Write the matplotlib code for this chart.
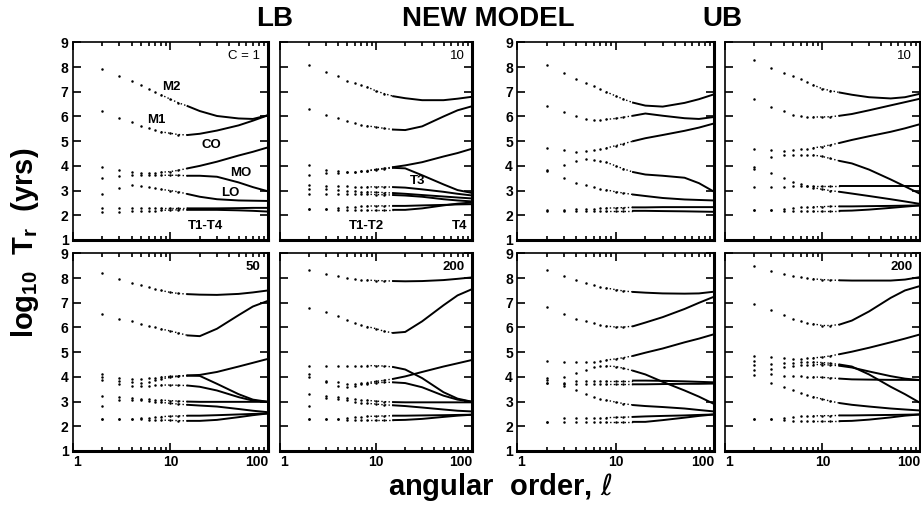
#Relaxation times vs angular order - LB / new model / UB panels
import numpy as np
import matplotlib
matplotlib.use('Agg')
import matplotlib.pyplot as plt
from matplotlib.ticker import NullFormatter

plt.rcParams['font.family'] = ['Liberation Sans', 'DejaVu Sans']
plt.rcParams['mathtext.fontset'] = 'custom'
plt.rcParams['mathtext.rm'] = 'Liberation Sans:bold'
plt.rcParams['mathtext.it'] = 'DejaVu Sans:italic'

#Angular orders where values were read
ELL = [2, 3, 4, 5, 6, 7, 8, 10, 12, 15, 20, 30, 50, 70, 100]

#LB, C = 1
LB_C1 = [
    [7.93, 7.63, 7.45, 7.26, 7.12, 6.98, 6.88, 6.70, 6.56, 6.42, 6.22, 6.02, 5.92, 5.90, 6.05],  #M2
    [6.21, 5.93, 5.76, 5.62, 5.52, 5.45, 5.38, 5.32, 5.27, 5.25, 5.30, 5.43, 5.64, 5.83, 6.05],  #M1
    [3.97, 3.83, 3.75, 3.72, 3.72, 3.73, 3.74, 3.77, 3.82, 3.90, 4.00, 4.17, 4.42, 4.57, 4.75],  #CO
    [3.52, 3.60, 3.63, 3.63, 3.62, 3.62, 3.62, 3.62, 3.62, 3.60, 3.60, 3.56, 3.33, 3.14, 2.97],  #MO
    [2.87, 3.10, 3.22, 3.18, 3.13, 3.09, 3.05, 3.00, 2.95, 2.86, 2.75, 2.65, 2.60, 2.59, 2.58],  #LO
    [2.28, 2.28, 2.28, 2.28, 2.28, 2.28, 2.28, 2.28, 2.28, 2.28, 2.28, 2.28, 2.29, 2.30, 2.30],  #T
    [2.15, 2.15, 2.16, 2.17, 2.18, 2.19, 2.20, 2.21, 2.22, 2.22, 2.22, 2.22, 2.20, 2.18, 2.15],  #T
]

#LB, C = 10
LB_C10 = [
    [8.10, 7.82, 7.63, 7.45, 7.35, 7.27, 7.20, 7.03, 6.93, 6.82, 6.74, 6.66, 6.66, 6.72, 6.80],
    [6.32, 6.07, 5.93, 5.80, 5.72, 5.66, 5.62, 5.57, 5.52, 5.47, 5.45, 5.60, 6.00, 6.25, 6.42],
    [4.04, 3.85, 3.78, 3.76, 3.77, 3.79, 3.81, 3.86, 3.90, 3.95, 4.02, 4.15, 4.38, 4.52, 4.70],
    [3.65, 3.70, 3.72, 3.74, 3.76, 3.78, 3.80, 3.84, 3.88, 3.92, 3.90, 3.62, 3.25, 3.02, 2.90],
    [3.21, 3.20, 3.18, 3.17, 3.16, 3.15, 3.15, 3.15, 3.15, 3.14, 3.12, 3.05, 2.95, 2.87, 2.80],
    [3.08, 3.05, 3.03, 3.00, 2.98, 2.96, 2.95, 2.93, 2.92, 2.90, 2.87, 2.82, 2.76, 2.72, 2.68],
    [2.87, 2.88, 2.88, 2.88, 2.87, 2.86, 2.85, 2.84, 2.83, 2.82, 2.80, 2.75, 2.65, 2.60, 2.56],
    [2.25, 2.26, 2.30, 2.33, 2.35, 2.36, 2.37, 2.38, 2.38, 2.38, 2.38, 2.40, 2.42, 2.44, 2.45],
    [2.25, 2.24, 2.23, 2.22, 2.22, 2.22, 2.22, 2.22, 2.22, 2.22, 2.22, 2.28, 2.40, 2.47, 2.52],
]

#UB, C = 1
UB_C1 = [
    [8.07, 7.76, 7.52, 7.35, 7.22, 7.10, 7.00, 6.83, 6.70, 6.56, 6.44, 6.40, 6.55, 6.70, 6.90],
    [6.42, 6.17, 6.00, 5.90, 5.87, 5.87, 5.88, 5.92, 5.97, 6.03, 6.12, 6.03, 5.93, 5.90, 5.98],
    [4.73, 4.64, 4.57, 4.59, 4.63, 4.67, 4.72, 4.82, 4.90, 5.00, 5.12, 5.25, 5.42, 5.55, 5.72],
    [3.83, 4.04, 4.18, 4.27, 4.25, 4.20, 4.15, 4.00, 3.88, 3.75, 3.65, 3.60, 3.52, 3.30, 2.95],
    [3.80, 3.52, 3.32, 3.21, 3.14, 3.08, 3.03, 2.95, 2.90, 2.84, 2.78, 2.70, 2.64, 2.62, 2.60],
    [2.20, 2.22, 2.24, 2.26, 2.27, 2.28, 2.29, 2.30, 2.31, 2.32, 2.32, 2.33, 2.33, 2.33, 2.33],
    [2.18, 2.18, 2.18, 2.18, 2.18, 2.18, 2.18, 2.18, 2.18, 2.18, 2.18, 2.17, 2.16, 2.15, 2.14],
]

#UB, C = 10
UB_C10 = [
    [8.27, 7.97, 7.76, 7.63, 7.50, 7.38, 7.28, 7.12, 7.05, 6.97, 6.88, 6.78, 6.73, 6.78, 6.92],
    [6.72, 6.39, 6.21, 6.07, 6.02, 5.99, 5.98, 5.98, 5.99, 6.03, 6.10, 6.25, 6.45, 6.58, 6.72],
    [4.70, 4.66, 4.62, 4.66, 4.68, 4.70, 4.73, 4.78, 4.85, 4.93, 5.05, 5.20, 5.38, 5.52, 5.69],
    [3.97, 4.34, 4.45, 4.45, 4.46, 4.46, 4.44, 4.38, 4.30, 4.20, 4.10, 3.85, 3.45, 3.17, 2.87],
    [3.14, 3.14, 3.16, 3.17, 3.18, 3.19, 3.20, 3.20, 3.20, 3.20, 3.20, 3.20, 3.20, 3.20, 3.20],
    [3.87, 3.70, 3.52, 3.35, 3.25, 3.17, 3.12, 3.05, 3.00, 2.95, 2.88, 2.78, 2.65, 2.56, 2.46],
    [2.22, 2.22, 2.26, 2.30, 2.32, 2.33, 2.34, 2.35, 2.36, 2.36, 2.36, 2.37, 2.38, 2.39, 2.40],
    [2.22, 2.22, 2.18, 2.18, 2.18, 2.18, 2.18, 2.18, 2.18, 2.18, 2.19, 2.23, 2.30, 2.35, 2.40],
]

#LB, C = 50
LB_C50 = [
    [8.20, 7.95, 7.80, 7.71, 7.63, 7.56, 7.50, 7.42, 7.38, 7.35, 7.33, 7.32, 7.36, 7.42, 7.50],
    [6.56, 6.35, 6.25, 6.16, 6.07, 6.00, 5.94, 5.86, 5.78, 5.68, 5.65, 5.95, 6.50, 6.85, 7.08],
    [4.12, 3.96, 3.92, 3.93, 3.95, 3.97, 3.99, 4.02, 4.04, 4.06, 4.08, 4.20, 4.42, 4.57, 4.73],
    [4.01, 3.85, 3.78, 3.75, 3.80, 3.86, 3.92, 3.98, 4.02, 4.05, 4.04, 3.72, 3.30, 3.08, 2.99],
    [3.89, 3.72, 3.65, 3.63, 3.64, 3.66, 3.67, 3.67, 3.66, 3.65, 3.60, 3.45, 3.18, 3.04, 2.99],
    [3.24, 3.18, 3.15, 3.12, 3.10, 3.08, 3.06, 3.04, 3.02, 3.00, 2.99, 2.99, 2.99, 2.99, 2.99],
    [2.84, 3.05, 3.08, 3.06, 3.03, 3.00, 2.97, 2.93, 2.90, 2.87, 2.84, 2.80, 2.70, 2.63, 2.57],
    [2.30, 2.30, 2.30, 2.32, 2.35, 2.37, 2.39, 2.41, 2.42, 2.43, 2.43, 2.45, 2.48, 2.50, 2.52],
    [2.30, 2.30, 2.30, 2.28, 2.27, 2.26, 2.25, 2.24, 2.23, 2.22, 2.22, 2.26, 2.37, 2.45, 2.52],
]

#LB, C = 200
LB_C200 = [
    [8.31, 8.18, 8.07, 8.02, 7.97, 7.94, 7.92, 7.90, 7.89, 7.88, 7.87, 7.88, 7.92, 7.97, 8.03],
    [6.79, 6.63, 6.47, 6.30, 6.18, 6.10, 6.04, 5.95, 5.85, 5.78, 5.82, 6.25, 6.90, 7.30, 7.56],
    [4.46, 4.46, 4.46, 4.46, 4.46, 4.46, 4.46, 4.45, 4.44, 4.40, 4.30, 3.95, 3.38, 3.12, 2.99],
    [4.12, 3.85, 3.78, 3.72, 3.72, 3.74, 3.77, 3.82, 3.86, 3.92, 4.02, 4.20, 4.42, 4.55, 4.69],
    [4.01, 3.78, 3.65, 3.60, 3.65, 3.70, 3.73, 3.76, 3.78, 3.78, 3.75, 3.58, 3.24, 3.08, 2.99],
    [3.31, 3.24, 3.20, 3.15, 3.12, 3.08, 3.05, 3.02, 3.00, 2.98, 2.97, 2.97, 2.97, 2.97, 2.97],
    [2.84, 3.14, 3.11, 3.05, 3.00, 2.96, 2.93, 2.90, 2.87, 2.85, 2.82, 2.76, 2.68, 2.63, 2.60],
    [2.30, 2.30, 2.30, 2.33, 2.36, 2.38, 2.40, 2.41, 2.42, 2.43, 2.43, 2.44, 2.45, 2.46, 2.47],
    [2.30, 2.30, 2.30, 2.27, 2.26, 2.25, 2.25, 2.25, 2.25, 2.25, 2.26, 2.30, 2.38, 2.43, 2.47],
]

#UB, C = 50
UB_C50 = [
    [8.31, 8.07, 7.91, 7.80, 7.72, 7.65, 7.60, 7.53, 7.48, 7.44, 7.41, 7.38, 7.37, 7.38, 7.45],
    [6.83, 6.56, 6.36, 6.25, 6.17, 6.10, 6.06, 6.02, 6.02, 6.05, 6.20, 6.42, 6.75, 7.00, 7.25],
    [4.64, 4.60, 4.60, 4.60, 4.62, 4.65, 4.68, 4.73, 4.78, 4.85, 4.98, 5.15, 5.40, 5.55, 5.73],
    [3.96, 3.99, 4.15, 4.28, 4.39, 4.43, 4.44, 4.42, 4.35, 4.25, 4.10, 3.80, 3.45, 3.20, 2.90],
    [3.88, 3.72, 3.82, 3.83, 3.84, 3.85, 3.85, 3.85, 3.85, 3.85, 3.85, 3.84, 3.82, 3.80, 3.78],
    [3.76, 3.74, 3.72, 3.71, 3.70, 3.70, 3.70, 3.70, 3.70, 3.70, 3.70, 3.71, 3.72, 3.72, 3.73],
    [3.76, 3.62, 3.47, 3.31, 3.20, 3.12, 3.06, 2.98, 2.92, 2.86, 2.82, 2.78, 2.72, 2.66, 2.60],
    [2.19, 2.32, 2.32, 2.32, 2.33, 2.34, 2.35, 2.36, 2.37, 2.38, 2.40, 2.42, 2.44, 2.46, 2.48],
    [2.19, 2.19, 2.19, 2.19, 2.18, 2.18, 2.18, 2.18, 2.18, 2.18, 2.18, 2.25, 2.35, 2.42, 2.48],
]

#UB, C = 200
UB_C200 = [
    [8.47, 8.29, 8.18, 8.09, 8.04, 8.00, 7.97, 7.94, 7.92, 7.91, 7.90, 7.90, 7.90, 7.94, 8.04],
    [6.97, 6.70, 6.52, 6.36, 6.27, 6.20, 6.15, 6.08, 6.08, 6.12, 6.28, 6.65, 7.20, 7.50, 7.68],
    [4.86, 4.80, 4.76, 4.74, 4.74, 4.75, 4.77, 4.80, 4.85, 4.92, 5.02, 5.18, 5.40, 5.55, 5.72],
    [4.66, 4.53, 4.55, 4.58, 4.60, 4.60, 4.60, 4.58, 4.55, 4.50, 4.42, 4.10, 3.60, 3.30, 2.95],
    [4.49, 4.32, 4.40, 4.45, 4.48, 4.50, 4.50, 4.50, 4.48, 4.45, 4.38, 4.22, 4.03, 3.93, 3.87],
    [4.28, 4.12, 4.03, 4.03, 4.02, 4.01, 4.00, 3.98, 3.96, 3.93, 3.90, 3.89, 3.88, 3.88, 3.87],
    [4.08, 3.76, 3.58, 3.45, 3.35, 3.27, 3.20, 3.10, 3.02, 2.94, 2.87, 2.80, 2.72, 2.68, 2.64],
    [2.30, 2.30, 2.35, 2.38, 2.40, 2.41, 2.42, 2.43, 2.43, 2.44, 2.44, 2.45, 2.46, 2.47, 2.48],
    [2.30, 2.30, 2.25, 2.22, 2.21, 2.21, 2.21, 2.21, 2.21, 2.21, 2.22, 2.27, 2.36, 2.43, 2.48],
]

#Corner labels of the panels
PANEL_TAGS = ['C = 1', '10', '', '10', '50', '200', '', '200']

#Mode labels: (text, ell, log10 T)
LABELS_C1 = [('M2', 10.3, 7.2), ('M1', 7.1, 5.87), ('CO', 26, 4.84),
             ('MO', 52, 3.72), ('LO', 41, 2.9), ('T1-T4', 23, 1.55)]
LABELS_C10 = [('T3', 27, 3.39), ('T1-T2', 8, 1.55), ('T4', 74, 1.55)]

#Panel positions in figure fractions
lefts = [0.079, 0.304, 0.5615, 0.787]
widths = [0.212, 0.209, 0.214, 0.212]
bottoms = [0.5385, 0.1327]
height = 0.38

panels = [LB_C1, LB_C10, UB_C1, UB_C10, LB_C50, LB_C200, UB_C50, UB_C200]

fig = plt.figure(figsize=(9.21, 5.2), dpi=100)

ell = np.array(ELL)
for k, curves in enumerate(panels):
    row = k // 4
    col = k % 4
    ax = fig.add_axes([lefts[col], bottoms[row], widths[col], height])
    for curve in curves:
        v = np.array(curve)
        #isolated points at low angular order, dotted run-in, then solid
        dots = ell <= 12
        ax.plot(ell[dots], v[dots], ls='none', marker='o', ms=1.8, mfc='k', mec='none')
        mid = (ell >= 8) & (ell <= 15)
        ax.plot(ell[mid], v[mid], color='k', ls=(0, (1, 1.6)), lw=1.0)
        solid = ell >= 15
        ax.plot(ell[solid], v[solid], color='k', lw=1.4)

    ax.set_xscale('log')
    ax.set_xlim(1, 100)
    ax.set_ylim(1, 9)
    ax.set_xticks([1, 10, 100])
    ax.set_yticks(range(1, 10))
    ax.xaxis.set_minor_formatter(NullFormatter())
    ax.tick_params(which='both', direction='in', top=True, right=True, width=1.2)
    ax.tick_params(which='major', length=6, pad=3)
    ax.tick_params(which='minor', length=3)
    if row == 1:
        xl = ax.set_xticklabels(['1', '10', '100'], fontsize=10, fontweight='bold')
        #end labels sit inside the panel edges so neighbours just touch
        xl[0].set_ha('left')
        xl[-1].set_ha('right')
    else:
        ax.set_xticklabels([])
    if col in (0, 2):
        ax.set_yticklabels([str(i) for i in range(1, 10)], fontsize=10, fontweight='bold')
    else:
        ax.set_yticklabels([])
    for side in ['top', 'left']:
        ax.spines[side].set_linewidth(1.2)
    for side in ['right', 'bottom']:
        ax.spines[side].set_linewidth(2.2)

    tag = PANEL_TAGS[k]
    if tag:
        ax.text(0.96, 0.96, tag, transform=ax.transAxes, ha='right', va='top',
                fontsize=9.5, fontweight='bold' if row == 1 else 'normal')
    if k == 0:
        for txt, x, y in LABELS_C1:
            ax.text(x, y, txt, ha='center', va='center', fontsize=9.5, fontweight='bold')
    if k == 1:
        for txt, x, y in LABELS_C10:
            ax.text(x, y, txt, ha='center', va='center', fontsize=9.5, fontweight='bold')

#Section titles
fig.text(0.2986, 0.963, 'LB', ha='center', va='center', fontsize=20, fontweight='bold')
fig.text(0.530, 0.963, 'NEW MODEL', ha='center', va='center', fontsize=20, fontweight='bold')
fig.text(0.784, 0.963, 'UB', ha='center', va='center', fontsize=20, fontweight='bold')

#Axis titles
fig.text(0.027, 0.533, r'$\mathrm{log_{10}}$  $\mathrm{T_r}$  (yrs)', rotation=90,
         ha='center', va='center', fontsize=21, fontweight='bold')
fig.text(0.543, 0.063, r'angular  order, $\ell$', ha='center', va='center',
         fontsize=21, fontweight='bold')

fig.savefig('out.png', dpi=100)
